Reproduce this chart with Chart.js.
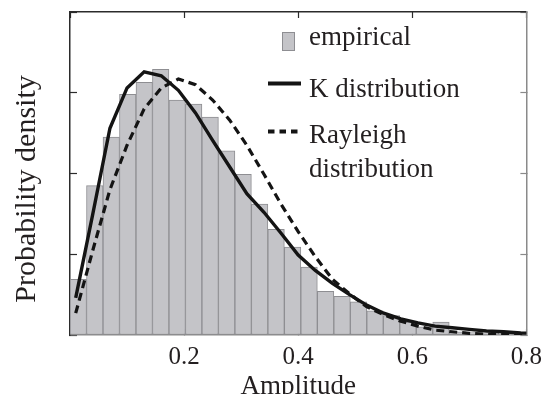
<!DOCTYPE html>
<html>
<head>
<meta charset="utf-8">
<script src="https://cdn.jsdelivr.net/npm/chart.js@4"></script>
<style>
  html, body { margin: 0; padding: 0; background: #ffffff; }
  #wrap { width: 555px; height: 394px; }
</style>
</head>
<body>
<div id="wrap"><canvas id="c" width="555" height="394"></canvas></div>
<script>
// ---- data ----
const binCenters = [0.0145, 0.0434, 0.0723, 0.1012, 0.1301, 0.1590, 0.1879, 0.2168, 0.2457, 0.2746,
                    0.3035, 0.3324, 0.3613, 0.3902, 0.4191, 0.4480, 0.4769, 0.5058, 0.5347, 0.5636,
                    0.5925, 0.6214, 0.6503, 0.6792, 0.7081, 0.7370, 0.7659, 0.7948];
const empirical  = [0.69, 1.85, 2.45, 2.98, 3.13, 3.29, 2.91, 2.86, 2.70, 2.28,
                    1.99, 1.62, 1.31, 1.09, 0.84, 0.54, 0.48, 0.41, 0.30, 0.24,
                    0.16, 0.10, 0.16, 0.04, 0.03, 0.02, 0.015, 0.01];

const curveX       = [0.01, 0.04, 0.07, 0.10, 0.13, 0.16, 0.19, 0.22, 0.25, 0.28, 0.31, 0.34, 0.37, 0.40,
                      0.43, 0.46, 0.49, 0.52, 0.55, 0.58, 0.61, 0.64, 0.67, 0.70, 0.73, 0.76, 0.79, 0.82];
const kDist        = [0.46, 1.50, 2.56, 3.06, 3.26, 3.21, 3.03, 2.75, 2.41, 2.08, 1.75, 1.52, 1.26, 0.99,
                      0.80, 0.64, 0.50, 0.37, 0.27, 0.20, 0.15, 0.11, 0.09, 0.07, 0.05, 0.04, 0.025, 0.02];
const rayleighDist = [0.27, 1.05, 1.80, 2.35, 2.80, 3.06, 3.17, 3.10, 2.91, 2.66, 2.35, 1.99, 1.62, 1.28,
                      0.97, 0.69, 0.51, 0.35, 0.25, 0.17, 0.11, 0.06, 0.04, 0.02, 0.01, 0.005, 0.002, 0.001];

const xTicks = [0.2, 0.4, 0.6, 0.8];
const seriesNames = ['empirical', 'K distribution', 'Rayleigh\ndistribution'];
const xTitle = 'Amplitude';
const yTitle = 'Probability density';

// ---- styles ----
const SERIF = "'Liberation Serif', 'Times New Roman', serif";
const TEXT = '#231f20';
const BAR_FILL = '#c4c4c8';
const BAR_EDGE = '#8e8e92';
const DARK = '#2b2b2b';
const GREY = '#8a8a8a';

const toPts = (xs, ys) => xs.map((x, i) => ({ x: x, y: ys[i] }));

const yTitlePlugin = {
  id: 'yTitle',
  afterDraw(chart) {
    const ctx = chart.ctx;
    ctx.save();
    ctx.translate(35, 189);
    ctx.rotate(-Math.PI / 2);
    ctx.font = '30px ' + SERIF;
    ctx.fillStyle = TEXT;
    ctx.textAlign = 'center';
    ctx.textBaseline = 'alphabetic';
    ctx.fillText(yTitle, 0, 0);
    ctx.restore();
  }
};

const legendPlugin = {
  id: 'insideLegend',
  afterDraw(chart) {
    const ctx = chart.ctx;
    const ds = chart.data.datasets;
    ctx.save();
    ctx.font = '27px ' + SERIF;
    ctx.fillStyle = TEXT;
    ctx.textAlign = 'left';
    ctx.textBaseline = 'alphabetic';
    const tx = 309;
    // empirical box
    const bar = ds.find(d => d.type === 'bar');
    ctx.fillStyle = bar.backgroundColor;
    ctx.fillRect(282, 32, 13, 19);
    ctx.strokeStyle = bar.borderColor;
    ctx.lineWidth = 1;
    ctx.strokeRect(282.5, 32.5, 12, 18);
    ctx.fillStyle = TEXT;
    ctx.fillText(bar.label, tx, 45);
    // K distribution sample
    const k = ds.find(d => d.label === seriesNames[1]);
    ctx.strokeStyle = k.borderColor;
    ctx.lineWidth = 4;
    ctx.setLineDash([]);
    ctx.beginPath(); ctx.moveTo(268, 83.5); ctx.lineTo(301, 83.5); ctx.stroke();
    ctx.fillText(k.label, tx, 96.5);
    // Rayleigh sample
    const r = ds.find(d => d.label === seriesNames[2]);
    ctx.strokeStyle = r.borderColor;
    ctx.lineWidth = 4;
    ctx.setLineDash([6.5, 5]);
    ctx.beginPath(); ctx.moveTo(268, 131.5); ctx.lineTo(302, 131.5); ctx.stroke();
    ctx.setLineDash([]);
    const lines = r.label.split('\n');
    ctx.fillText(lines[0], tx, 143);
    ctx.fillText(lines[1], tx, 176.5);
    ctx.restore();
  }
};

new Chart(document.getElementById('c'), {
  type: 'bar',
  data: {
    datasets: [
      {
        type: 'line', label: seriesNames[1], data: toPts(curveX, kDist),
        borderColor: '#141414', borderWidth: 3.4, pointRadius: 0, tension: 0, fill: false, order: 0
      },
      {
        type: 'line', label: seriesNames[2], data: toPts(curveX, rayleighDist),
        borderColor: '#141414', borderWidth: 3.2, borderDash: [8, 5], pointRadius: 0, tension: 0, fill: false, order: 1
      },
      {
        type: 'bar', label: seriesNames[0], data: toPts(binCenters, empirical),
        backgroundColor: BAR_FILL, borderColor: BAR_EDGE, borderWidth: 1, borderSkipped: false,
        barPercentage: 1, categoryPercentage: 1, order: 2
      }
    ]
  },
  options: {
    responsive: false,
    animation: false,
    devicePixelRatio: 1,
    layout: { padding: { top: 12, right: 24, left: 0, bottom: 0 } },
    plugins: { legend: { display: false }, tooltip: { enabled: false }, title: { display: false } },
    scales: {
      x: {
        type: 'linear', position: 'bottom', min: 0, max: 0.8, offset: false,
        afterBuildTicks: (s) => { s.ticks = [{ value: 0 }].concat(xTicks.map(v => ({ value: v }))); },
        ticks: {
          color: TEXT, font: { family: SERIF, size: 25, lineHeight: 1.2 }, padding: 13,
          maxRotation: 0, autoSkip: false,
          callback: (v) => (v === 0 ? '' : v.toFixed(1))
        },
        grid: { offset: false, drawOnChartArea: false, drawTicks: true, tickLength: -6, tickColor: GREY, tickWidth: 1.2 },
        border: { display: true, color: GREY, width: 1.5 },
        title: { display: true, text: xTitle, color: TEXT, font: { family: SERIF, size: 27, lineHeight: 1 }, padding: { top: 0, bottom: -6 } },
        afterFit: (s) => { s.height = 59; }
      },
      x2: {
        type: 'linear', position: 'top', min: 0, max: 0.8, offset: false,
        afterBuildTicks: (s) => { s.ticks = [{ value: 0 }].concat(xTicks.map(v => ({ value: v }))); },
        ticks: { display: false },
        grid: { offset: false, drawOnChartArea: false, drawTicks: true, tickLength: -6, tickColor: DARK, tickWidth: 1.2 },
        border: { display: true, color: DARK, width: 1.5 },
        afterFit: (s) => { s.height = 0; }
      },
      y: {
        type: 'linear', position: 'left', min: 0, max: 4,
        ticks: { display: false, stepSize: 1 },
        grid: { drawOnChartArea: false, drawTicks: true, tickLength: -7, tickColor: DARK, tickWidth: 1.2 },
        border: { display: true, color: DARK, width: 1.5 },
        afterFit: (s) => { s.width = 70; }
      },
      y2: {
        type: 'linear', position: 'right', min: 0, max: 4,
        ticks: { display: false, stepSize: 1 },
        grid: { drawOnChartArea: false, drawTicks: true, tickLength: -6, tickColor: GREY, tickWidth: 1.2 },
        border: { display: true, color: GREY, width: 1.5 },
        afterFit: (s) => { s.width = 0; }
      }
    }
  },
  plugins: [yTitlePlugin, legendPlugin]
});
</script>
</body>
</html>
